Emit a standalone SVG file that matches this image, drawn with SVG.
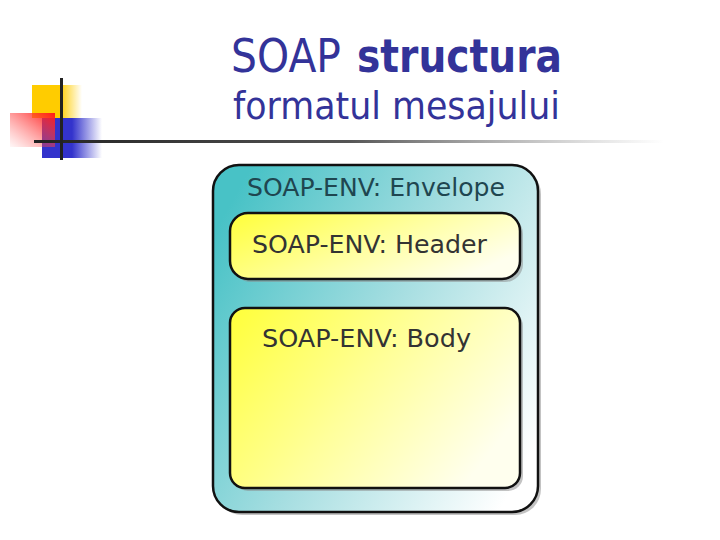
<svg xmlns="http://www.w3.org/2000/svg" width="720" height="540" viewBox="0 0 720 540">
<defs>
<linearGradient id="yel" x1="0" y1="0" x2="1" y2="0"><stop offset="0.55" stop-color="#ffcc00"/><stop offset="1" stop-color="#ffcc00" stop-opacity="0"/></linearGradient>
<linearGradient id="blu" x1="0" y1="0" x2="1" y2="0"><stop offset="0.5" stop-color="#3333cc"/><stop offset="1" stop-color="#3333cc" stop-opacity="0"/></linearGradient>
<linearGradient id="red" x1="1" y1="0" x2="0" y2="1"><stop offset="0" stop-color="#ff1a1a"/><stop offset="1" stop-color="#ff6666" stop-opacity="0.05"/></linearGradient>
<linearGradient id="hline" x1="0" y1="0" x2="1" y2="0"><stop offset="0" stop-color="#222"/><stop offset="0.5" stop-color="#555"/><stop offset="1" stop-color="#888" stop-opacity="0"/></linearGradient>
<linearGradient id="env" x1="0" y1="0.2" x2="1" y2="0.8"><stop offset="0" stop-color="#48c2c6"/><stop offset="0.5" stop-color="#a6dee1"/><stop offset="1" stop-color="#ffffff"/></linearGradient>
<linearGradient id="yb" x1="0" y1="0.1" x2="1" y2="0.6"><stop offset="0" stop-color="#ffff40"/><stop offset="0.5" stop-color="#ffff99"/><stop offset="1" stop-color="#ffffee"/></linearGradient>
<style>
.box{stroke:#111;stroke-width:2.5}
.shadow{fill:#888;opacity:0.5}
.lbl{font-family:"DejaVu Sans","Liberation Sans",sans-serif;font-size:24px;fill:#333}
.title{font-family:"DejaVu Sans","Liberation Sans",sans-serif;fill:#333399}
</style>
</defs>
<rect width="720" height="540" fill="#fff"/>
<g id="logo">
<rect x="32" y="85" width="50" height="33" fill="url(#yel)"/>
<rect x="42" y="118" width="60" height="40" fill="url(#blu)"/>
<rect x="10" y="113" width="45" height="34" fill="url(#red)"/>
<rect x="34" y="140" width="630" height="3" fill="url(#hline)"/>
<rect x="60" y="78" width="3" height="82" fill="#222"/>
</g>
<g id="title">
<text class="title" x="231" y="72" font-size="47" textLength="110" lengthAdjust="spacingAndGlyphs">SOAP</text>
<text class="title" x="357" y="72" font-size="47" font-weight="bold" textLength="205" lengthAdjust="spacingAndGlyphs">structura</text>
<text class="title" x="233" y="119" font-size="37" textLength="327" lengthAdjust="spacingAndGlyphs">formatul mesajului</text>
</g>
<g id="envelope">
<rect class="shadow" x="216" y="168" width="325" height="347" rx="26"/>
<rect class="box" x="213" y="165" width="325" height="347" rx="26" fill="url(#env)"/>
<text class="lbl" x="247" y="196" style="fill:#1f4650" textLength="258" lengthAdjust="spacingAndGlyphs">SOAP-ENV: Envelope</text>
</g>
<g id="header">
<rect class="shadow" x="233" y="216" width="290" height="66" rx="18"/>
<rect class="box" x="230" y="213" width="290" height="66" rx="18" fill="url(#yb)"/>
<text class="lbl" x="252" y="253" textLength="235" lengthAdjust="spacingAndGlyphs">SOAP-ENV: Header</text>
</g>
<g id="body">
<rect class="shadow" x="233" y="311" width="290" height="180" rx="15"/>
<rect class="box" x="230" y="308" width="290" height="180" rx="15" fill="url(#yb)"/>
<text class="lbl" x="262" y="347" textLength="209" lengthAdjust="spacingAndGlyphs">SOAP-ENV: Body</text>
</g>
<g id="connectors"/>
</svg>
